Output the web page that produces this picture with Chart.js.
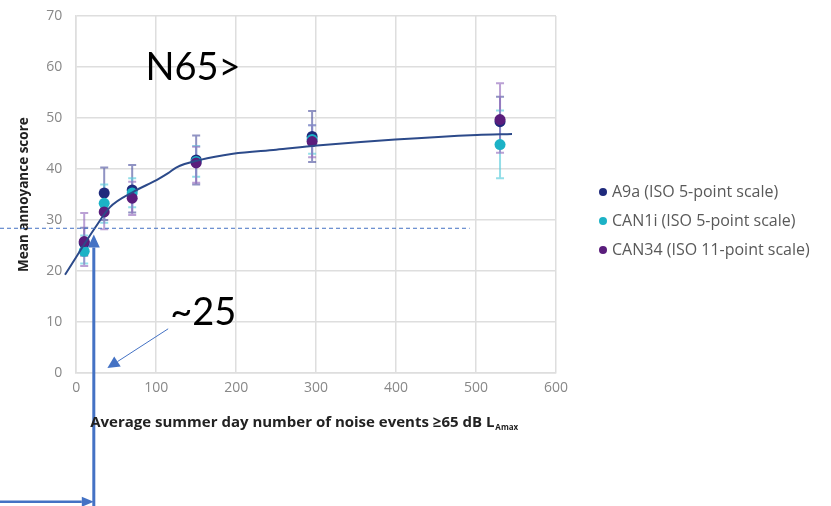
<!DOCTYPE html>
<html lang="en">
<head>
  <meta charset="UTF-8">
  <title>Mean annoyance score vs N65</title>
  <script src="https://cdn.jsdelivr.net/npm/chart.js"></script>
  <style>
    body { margin: 0; background: #fff; }
    #wrap { width: 831px; height: 506px; }
  </style>
</head>
<body>
  <div id="wrap"><canvas id="grafico" width="831" height="506"></canvas></div>
  <script>
    // x positions of the survey groups (N65 events per day)
    const xVals = [10, 35, 70, 150, 295, 530];

    // A9a (ISO 5-point scale)
    const a9aY  = [25.5, 35.3, 35.9, 41.8, 46.4, 49.3];
    const a9aHi = [28.5, 40.3, 40.8, 46.6, 51.4, 54.2];
    const a9aLo = [23.0, 30.0, 31.5, 37.0, 41.4, 44.4];

    // CAN1i (ISO 5-point scale)
    const can1iY  = [23.9, 33.3, 35.3, 41.5, 45.8, 44.8];
    const can1iHi = [27.0, 37.0, 38.2, 44.5, 48.6, 51.5];
    const can1iLo = [21.5, 29.5, 32.5, 38.5, 43.0, 38.2];

    // CAN34 (ISO 11-point scale)
    const can34Y  = [25.8, 31.6, 34.3, 41.2, 45.4, 49.7];
    const can34Hi = [31.4, 36.0, 37.5, 44.4, 48.6, 56.8];
    const can34Lo = [21.0, 28.2, 31.0, 37.3, 42.3, 43.2];

    // fitted curve
    const fitX = [-14, 24, 42, 71, 101, 115, 125, 155, 196, 250, 301, 399, 501, 545];
    const fitY = [19.3, 28.6, 32.5, 35.5, 37.9, 39.2, 40.3, 41.8, 43.0, 43.8, 44.6, 45.8, 46.7, 46.9];

    const xTicks = [0, 100, 200, 300, 400, 500, 600];
    const yTicks = [0, 10, 20, 30, 40, 50, 60, 70];

    // annotation anchors (data units)
    const refLevel = 28.4;     // dashed line
    const refLineEnd = 492;
    const arrowX = 22;         // thick vertical arrow
    const bottomArrowY = -25.2;
    const thinArrow = { from: [115, 8.7], to: [39, 1.0] };
    const labels = [
      { text: 'N65>', x: 146, y: 59.8 },
      { text: '~25', x: 159, y: 11.9 }
    ];

    const blue = '#4472c4';

    const series = [
      { label: 'A9a (ISO 5-point scale)', y: a9aY, hi: a9aHi, lo: a9aLo, color: '#1f2a7c', bar: 'rgba(70,75,155,0.6)' },
      { label: 'CAN1i (ISO 5-point scale)', y: can1iY, hi: can1iHi, lo: can1iLo, color: '#1cb2c6', bar: 'rgba(90,205,220,0.65)' },
      { label: 'CAN34 (ISO 11-point scale)', y: can34Y, hi: can34Hi, lo: can34Lo, color: '#5a1d7c', bar: 'rgba(150,110,190,0.65)' }
    ];

    const datasets = series.map((s, i) => ({
      label: s.label,
      data: xVals.map((x, j) => ({ x, y: s.y[j] })),
      backgroundColor: s.color,
      borderColor: s.color,
      pointRadius: 5.5,
      pointBorderWidth: 0,
      showLine: false,
      order: 3 - i
    }));
    datasets.push({
      label: 'fit',
      data: fitX.map((x, i) => ({ x, y: fitY[i] })),
      borderColor: '#2c4a8a',
      borderWidth: 2,
      pointRadius: 0,
      showLine: true,
      fill: false,
      cubicInterpolationMode: 'monotone',
      clip: false,
      order: 0
    });

    function arrow(ctx, x1, y1, x2, y2, w, hl, hw) {
      const a = Math.atan2(y2 - y1, x2 - x1);
      const bx = x2 - hl * Math.cos(a), by = y2 - hl * Math.sin(a);
      ctx.lineWidth = w;
      ctx.beginPath(); ctx.moveTo(x1, y1); ctx.lineTo(bx, by); ctx.stroke();
      ctx.beginPath();
      ctx.moveTo(x2, y2);
      ctx.lineTo(bx + hw * Math.sin(a), by - hw * Math.cos(a));
      ctx.lineTo(bx - hw * Math.sin(a), by + hw * Math.cos(a));
      ctx.closePath(); ctx.fill();
    }

    const errorBars = {
      id: 'errorBars',
      beforeDatasetsDraw(chart) {
        const { ctx, scales: { x, y } } = chart;
        ctx.save();
        ctx.lineWidth = 2;
        series.forEach(s => {
          ctx.strokeStyle = s.bar;
          xVals.forEach((v, j) => {
            const px = x.getPixelForValue(v);
            const top = y.getPixelForValue(s.hi[j]), bot = y.getPixelForValue(s.lo[j]);
            ctx.beginPath();
            ctx.moveTo(px, top); ctx.lineTo(px, bot);
            ctx.moveTo(px - 4, top); ctx.lineTo(px + 4, top);
            ctx.moveTo(px - 4, bot); ctx.lineTo(px + 4, bot);
            ctx.stroke();
          });
        });
        ctx.restore();
      }
    };

    const overlay = {
      id: 'overlay',
      afterDraw(chart) {
        const { ctx, scales: { x, y } } = chart;
        ctx.save();
        // dashed reference line
        ctx.strokeStyle = blue; ctx.fillStyle = blue;
        ctx.lineWidth = 1;
        ctx.setLineDash([4, 3]);
        ctx.beginPath();
        ctx.moveTo(0, y.getPixelForValue(refLevel));
        ctx.lineTo(x.getPixelForValue(refLineEnd), y.getPixelForValue(refLevel));
        ctx.stroke();
        ctx.setLineDash([]);

        // thick arrows
        const ax = x.getPixelForValue(arrowX);
        const by = y.getPixelForValue(bottomArrowY);
        arrow(ctx, 0, by, ax, by, 2.5, 12, 5);
        arrow(ctx, ax, chart.height + 5, ax, y.getPixelForValue(refLevel - 1.2), 3, 13, 6);

        // thin arrow to the axis
        arrow(ctx, x.getPixelForValue(thinArrow.from[0]), y.getPixelForValue(thinArrow.from[1]),
              x.getPixelForValue(thinArrow.to[0]), y.getPixelForValue(thinArrow.to[1]), 1, 12, 6);

        // big labels
        ctx.fillStyle = '#000';
        ctx.font = '38px Lato';
        ctx.textAlign = 'center';
        ctx.textBaseline = 'middle';
        labels.forEach(l => ctx.fillText(l.text, x.getPixelForValue(l.x), y.getPixelForValue(l.y)));

        // x axis title with subscript
        const main = 'Average summer day number of noise events \u226565 dB L';
        const left = x.left + 14;
        const ty = x.bottom + 21;
        ctx.textAlign = 'left';
        ctx.fillStyle = '#222';
        ctx.font = 'bold 15px "Open Sans"';
        ctx.fillText(main, left, ty);
        const wMain = ctx.measureText(main).width;
        ctx.font = 'bold 8px "Open Sans"';
        ctx.fillText('Amax', left + wMain + 1, ty + 5);

        // legend
        const lx = x.right + 47, ly = y.top + 176;
        ctx.font = '16px "Open Sans"';
        series.forEach((s, i) => {
          const cy = ly + i * 29;
          ctx.fillStyle = s.color;
          ctx.beginPath(); ctx.arc(lx, cy, 4, 0, Math.PI * 2); ctx.fill();
          ctx.fillStyle = '#595959';
          ctx.fillText(s.label, lx + 9, cy);
        });
        ctx.restore();
      }
    };

    new Chart(document.getElementById('grafico').getContext('2d'), {
      type: 'scatter',
      data: { datasets },
      plugins: [errorBars, overlay],
      options: {
        responsive: false,
        animation: false,
        layout: { padding: { left: 16, right: 275, top: 1, bottom: 104 } },
        plugins: {
          legend: { display: false },
          tooltip: { enabled: false }
        },
        scales: {
          x: {
            type: 'linear',
            min: 0,
            max: 600,
            afterBuildTicks: axis => { axis.ticks = xTicks.map(v => ({ value: v })); },
            ticks: { color: '#888', font: { family: 'Open Sans', size: 14 }, padding: 6 },
            grid: { color: '#dedede', lineWidth: 1.5, drawTicks: false },
            border: { color: '#dedede', width: 1.5 }
          },
          y: {
            min: 0,
            max: 70,
            afterBuildTicks: axis => { axis.ticks = yTicks.map(v => ({ value: v })); },
            afterFit: axis => { axis.paddingTop = 16; },
            ticks: { color: '#888', font: { family: 'Open Sans', size: 14 }, padding: 14 },
            grid: { color: '#dedede', lineWidth: 1.5, drawTicks: false },
            border: { color: '#dedede', width: 1.5 },
            title: {
              display: true,
              text: 'Mean annoyance score',
              color: '#222',
              font: { family: 'Open Sans', size: 13.5, weight: 'bold' },
              padding: { top: 0, bottom: 0 }
            }
          }
        }
      }
    });
  </script>
</body>
</html>
